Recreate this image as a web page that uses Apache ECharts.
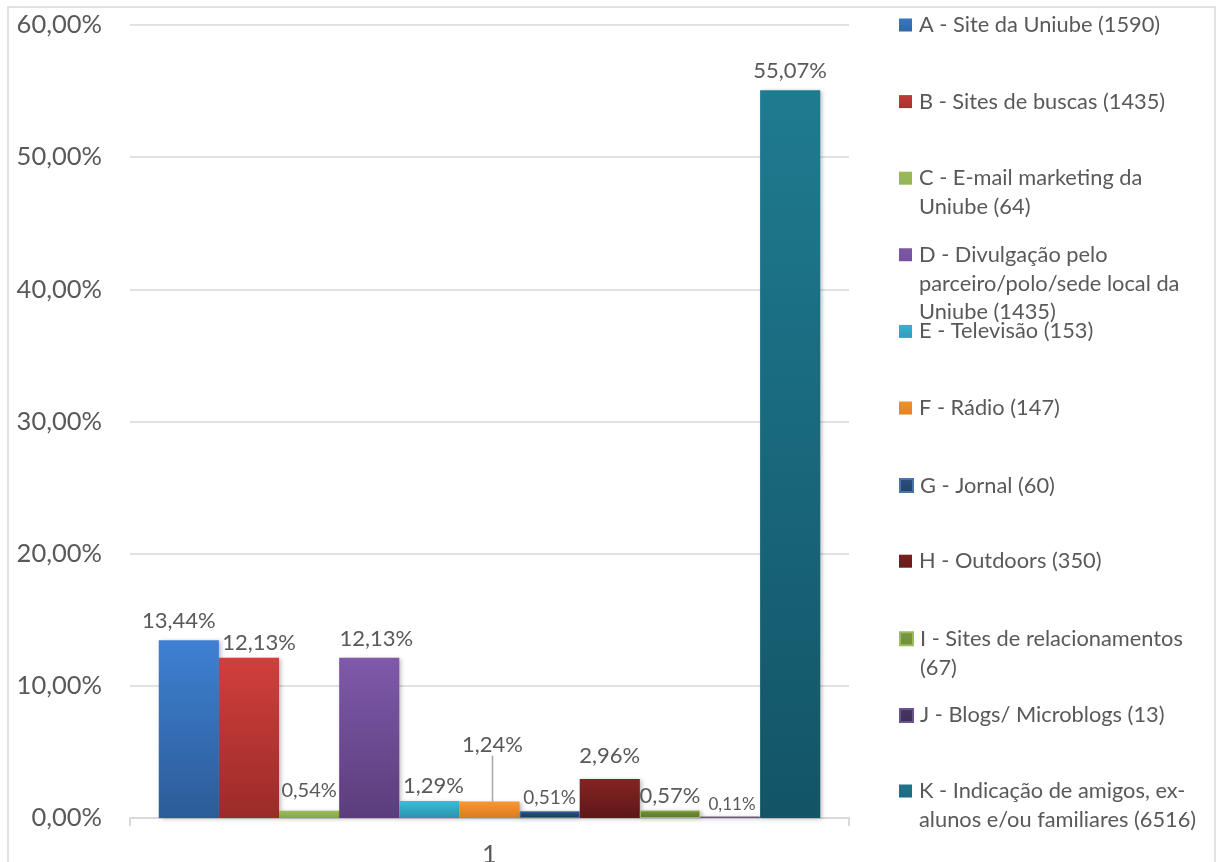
<!DOCTYPE html>
<html>
<head>
<meta charset="utf-8">
<script src="https://cdn.jsdelivr.net/npm/echarts@6/dist/echarts.min.js"></script>
<style>
html,body{margin:0;padding:0;background:#fff;}
#c{width:1224px;height:862px;}
</style>
</head>
<body>
<div id="c"></div>
<script>
// ---- data ----
const categories = ['1'];
const seriesNames = [
  'A - Site da Uniube (1590)',
  'B - Sites de buscas (1435)',
  'C - E-mail marketing da\nUniube (64)',
  'D - Divulgação pelo\nparceiro/polo/sede local da\nUniube (1435)',
  'E - Televisão (153)',
  'F - Rádio (147)',
  'G - Jornal (60)',
  'H - Outdoors (350)',
  'I - Sites de relacionamentos\n(67)',
  'J - Blogs/ Microblogs (13)',
  'K - Indicação de amigos, ex-\nalunos e/ou familiares (6516)'
];
const seriesValues = [13.44, 12.13, 0.54, 12.13, 1.29, 1.24, 0.51, 2.96, 0.57, 0.11, 55.07];
const yTicks = [0, 10, 20, 30, 40, 50, 60];

// ---- styles ----
const topColors    = ['#3E80D2','#D13F3C','#9CBD5A','#8059AA','#3CBCDB','#FA9733','#2E5889','#852323','#7C9C40','#4F3B6B','#1F7B90'];
const bottomColors = ['#2C5C98','#9B2B28','#86A745','#5B3D7C','#2B93AD','#DB7B21','#1F3B61','#5E1717','#5D7B2B','#3A2A52','#135467'];
const borderColors = [null,null,null,null,null,null,'#4A73A8',null,'#9CBB5E','#6A5490',null];
const labelOffsets = [[-10,-4],[10,0],[0,-6],[7,-4],[4,0],[3,-42],[0,0],[0,-8],[0,0],[2,0],[0,-4]];
const labelSizes = [22,22,20,22,22,22,19,22,22,17,22];

const fmt = v => v.toFixed(2).replace('.', ',') + '%';
const textColor = '#595959';
const fontFam = 'Lato, "Open Sans", sans-serif';

const series = seriesNames.map((name, i) => {
  const s = {
    name: name,
    type: 'bar',
    barGap: '0%',
    barCategoryGap: '8%',
    data: [seriesValues[i]],
    itemStyle: {
      color: new echarts.graphic.LinearGradient(0,0,0,1,[{offset:0,color:topColors[i]},{offset:1,color:bottomColors[i]}]),
      shadowColor: 'rgba(0,0,0,0.25)',
      shadowBlur: 4,
      shadowOffsetX: 2,
      shadowOffsetY: 1
    },
    label: {
      show: true,
      position: 'top',
      distance: 4,
      offset: i === 5 ? [0,0] : labelOffsets[i],
      color: textColor,
      fontFamily: fontFam,
      fontSize: labelSizes[i],
      formatter: p => fmt(p.value)
    }
  };
  if (borderColors[i]) {
    s.itemStyle.borderColor = borderColors[i];
    s.itemStyle.borderWidth = 1;
  }
  if (i === 5) {
    s.labelLayout = { dx: labelOffsets[i][0], dy: labelOffsets[i][1] };
    s.labelLine = { show: true, lineStyle: { color: '#A6A6A6', width: 1.5 } };
  }
  return s;
});

// legends: one per item at Excel slot positions; square aligned with first text line
const lineH = 28.7;
const legends = seriesNames.map((name, i) => {
  const firstCenter = 25 + i * 76.6;
  const nLines = name.split('\n').length;
  const H = nLines * lineH;
  const sq = lineH / 2 - 6.5;
  return {
    data: [name],
    left: 899,
    top: firstCenter - lineH / 2,
    orient: 'vertical',
    itemWidth: 13,
    itemHeight: H,
    itemGap: 0,
    padding: 0,
    icon: 'path://M0,0M0,' + sq + 'h13v13h-13zM13,' + H,
    selectedMode: false,
    textStyle: { color: textColor, fontFamily: fontFam, fontSize: 21.8, lineHeight: lineH, padding: [0,0,0,2] }
  };
});

const chart = echarts.init(document.getElementById('c'));
chart.setOption({
  animation: false,
  backgroundColor: '#fff',
  legend: legends,
  grid: { left: 130, right: 375, top: 25, bottom: 44, containLabel: false, outerBoundsMode: 'none' },
  xAxis: {
    type: 'category',
    data: categories,
    axisLine: { lineStyle: { color: '#D9D9D9', width: 2 } },
    axisTick: { show: true, length: 8, lineStyle: { color: '#D9D9D9', width: 2 } },
    axisLabel: { color: textColor, fontFamily: fontFam, fontSize: 25.5, margin: 24 }
  },
  yAxis: {
    type: 'value',
    min: yTicks[0],
    max: yTicks[yTicks.length - 1],
    interval: 10,
    axisLine: { show: false },
    axisTick: { show: false },
    splitLine: { lineStyle: { color: '#D9D9D9', width: 1.5 } },
    axisLabel: { color: textColor, fontFamily: fontFam, fontSize: 25.5, margin: 28, formatter: v => fmt(v) }
  },
  series: series,
  graphic: [{
    type: 'rect',
    shape: { x: 8, y: 7, width: 1207, height: 900 },
    style: { fill: 'none', stroke: '#D9D9D9', lineWidth: 1.5 },
    silent: true,
    z: -1
  }]
});
</script>
</body>
</html>
